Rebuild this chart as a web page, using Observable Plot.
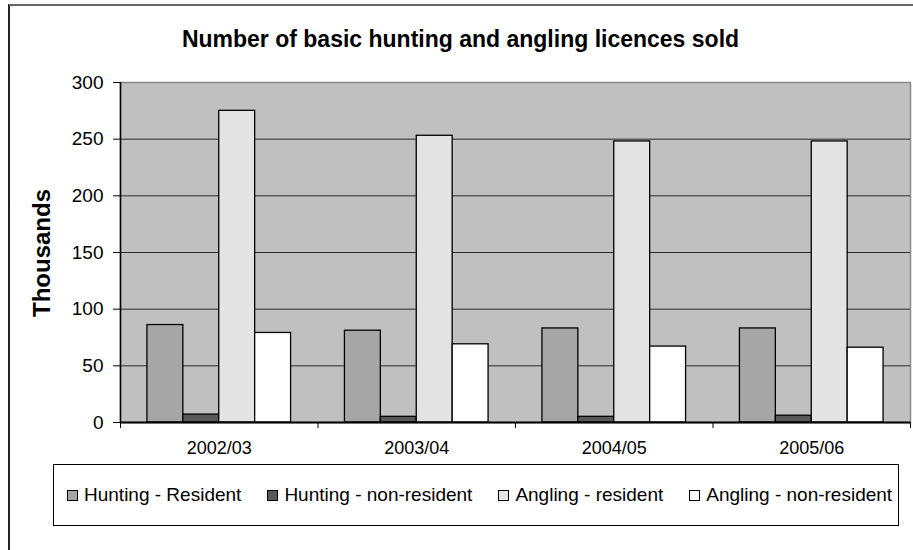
<!DOCTYPE html>
<html>
<head>
<meta charset="utf-8">
<script src="https://cdn.jsdelivr.net/npm/d3@7"></script>
<script src="https://cdn.jsdelivr.net/npm/@observablehq/plot@0.6"></script>
<style>
  html, body { margin: 0; padding: 0; background: #fff; }
  #wrap { position: relative; width: 913px; height: 550px; overflow: hidden; font-family: "Liberation Sans", Arial, sans-serif; color: #000; }
  #border { position: absolute; left: 8px; top: 4px; width: 1000px; height: 1000px; border-left: 2px solid #222; border-top: 2px solid #666; box-sizing: border-box; }
  #title { position: absolute; left: 0; width: 921px; top: 27px; text-align: center; font-weight: bold; font-size: 23px; line-height: 24px; }
  #ylabel { position: absolute; left: 42px; top: 253px; transform: translate(-50%, -50%) rotate(-90deg); font-weight: bold; font-size: 24px; white-space: nowrap; }
  #chart { position: absolute; left: 0; top: 60px; }
  #legend { position: absolute; left: 53px; top: 464px; width: 846px; height: 62px; border: 1.5px solid #000; box-sizing: border-box; display: flex; align-items: center; padding-left: 13px; gap: 26px; font-size: 19px; background: #fff; }
  .item { display: flex; align-items: center; white-space: nowrap; }
  .sw { width: 9px; height: 9px; border: 1.2px solid #000; margin-right: 6px; box-sizing: content-box; }
</style>
</head>
<body>
<div id="wrap">
  <div id="border"></div>
  <div id="title">Number of basic hunting and angling licences sold</div>
  <div id="ylabel">Thousands</div>
  <div id="chart"></div>
  <div id="legend"></div>
</div>
<script>
const years = ["2002/03", "2003/04", "2004/05", "2005/06"];
const seriesNames = ["Hunting - Resident", "Hunting - non-resident", "Angling - resident", "Angling - non-resident"];
const huntingResident = [86, 81, 83, 83];
const huntingNonResident = [7, 5, 5, 6];
const anglingResident = [275, 253, 248, 248];
const anglingNonResident = [79, 69, 67, 66];
const seriesColors = ["#a6a6a6", "#595959", "#e4e4e4", "#ffffff"];
const yTicks = [0, 50, 100, 150, 200, 250, 300];

const seriesValues = [huntingResident, huntingNonResident, anglingResident, anglingNonResident];
// Excel-style clustered bars: 4 bars + 150% gap per category
const slots = seriesNames.length + 1.5;
const rows = [];
years.forEach((yr, i) => {
  seriesNames.forEach((s, k) => {
    rows.push({
      year: yr, series: s, value: seriesValues[k][i],
      x1: i + (0.75 + k) / slots,
      x2: i + (1.75 + k) / slots
    });
  });
});

const chart = Plot.plot({
  width: 913,
  height: 400,
  marginTop: 22,
  marginBottom: 38,
  marginLeft: 120,
  marginRight: 3,
  style: { fontFamily: "'Liberation Sans', Arial, sans-serif", color: "#000", background: "transparent" },
  x: { domain: [0, years.length], axis: null },
  y: { domain: [0, 300], axis: null },
  color: { domain: seriesNames, range: seriesColors },
  marks: [
    Plot.frame({ fill: "#c0c0c0", stroke: "#888", strokeWidth: 1.5 }),
    Plot.ruleY(yTicks.filter(t => t > 0 && t < 300), { stroke: "#2a2a2a", strokeWidth: 1 }),
    Plot.rect(rows, { x1: "x1", x2: "x2", y1: d => 0, y2: "value", fill: "series", stroke: "#000", strokeWidth: 1.3 }),
    Plot.ruleX([0], { stroke: "#000", strokeWidth: 1.5 }),
    Plot.ruleY([0], { stroke: "#000", strokeWidth: 2 }),
    Plot.axisY({ ticks: yTicks, tickSize: 7, tickPadding: 10, fontSize: 19, tickFormat: d => String(d), label: null, stroke: "#000" }),
    Plot.axisX({ ticks: d3.range(years.length + 1), tickSize: 6, tickFormat: () => "", label: null, stroke: "#000" }),
    Plot.axisX({ ticks: years.map((_, i) => i + 0.5), tickSize: 0, tickPadding: 19, fontSize: 18, tickFormat: d => years[Math.floor(d)], label: null })
  ]
});
document.getElementById("chart").appendChild(chart);

const legend = document.getElementById("legend");
seriesNames.forEach((s, k) => {
  const item = document.createElement("div");
  item.className = "item";
  const sw = document.createElement("div");
  sw.className = "sw";
  sw.style.background = seriesColors[k];
  const tx = document.createElement("span");
  tx.textContent = s;
  item.appendChild(sw);
  item.appendChild(tx);
  legend.appendChild(item);
});
</script>
</body>
</html>
